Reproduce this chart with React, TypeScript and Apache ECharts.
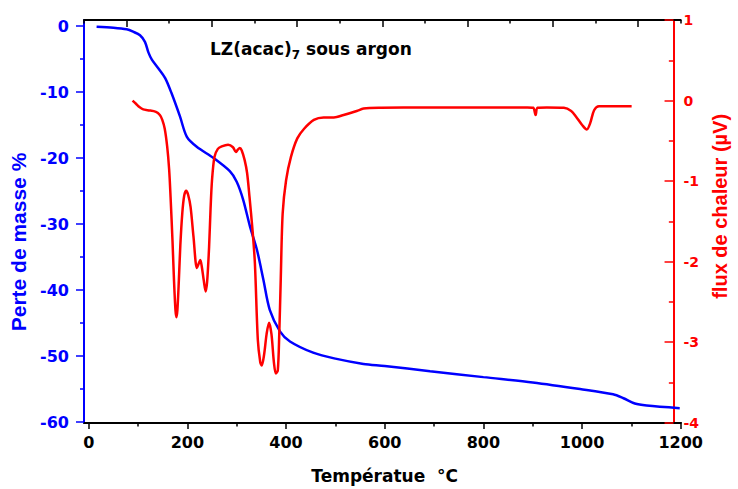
import React, { useEffect, useRef } from "react";
import * as echarts from "echarts";

// Mass loss curve (TG), temperature °C -> mass %
const massTemp = [16, 50, 77, 90, 104, 114, 121, 128, 141, 155, 168, 185, 199, 219, 253, 286, 300, 313, 327, 341, 354, 367, 388, 408, 455, 500, 557, 600, 692, 800, 900, 996, 1063, 1084, 1107, 1131, 1198];
const massLoss = [-0.1, -0.25, -0.5, -0.86, -1.4, -2.4, -4.0, -5.1, -6.4, -7.9, -10.2, -13.7, -16.8, -18.3, -20.0, -22.0, -23.6, -26.3, -30.4, -33.9, -38.4, -43.0, -46.3, -47.8, -49.5, -50.4, -51.2, -51.5, -52.3, -53.2, -54.0, -55.0, -55.8, -56.4, -57.2, -57.5, -57.9];

// Heat flow curve (DTA), temperature °C -> µV
const heatTemp = [90, 97, 104, 112, 121, 138, 146, 151, 156, 161, 165, 168, 172, 175, 178, 180, 182, 185, 188, 192, 196, 200, 204, 209, 215, 222, 226, 229, 232, 236, 240, 243, 247, 250, 253, 258, 265, 273, 286, 296, 302, 306, 310, 314, 320, 325, 330, 336, 341, 347, 352, 355, 360, 365, 370, 375, 380, 384, 388, 391, 394, 398, 405, 415, 428, 442, 462, 482, 503, 523, 550, 564, 600, 692, 800, 900, 912, 917, 921, 940, 975, 990, 1000, 1012, 1022, 1029, 1037, 1047, 1063, 1114];
const heatFlow = [0.0, -0.04, -0.08, -0.11, -0.12, -0.14, -0.18, -0.24, -0.35, -0.57, -0.85, -1.2, -1.75, -2.23, -2.6, -2.69, -2.6, -2.23, -1.8, -1.4, -1.18, -1.12, -1.17, -1.32, -1.69, -2.08, -2.02, -1.98, -2.06, -2.23, -2.37, -2.25, -1.82, -1.35, -0.99, -0.7, -0.6, -0.57, -0.55, -0.58, -0.64, -0.61, -0.59, -0.62, -0.74, -0.9, -1.2, -1.6, -2.02, -2.97, -3.25, -3.29, -3.15, -2.9, -2.76, -2.9, -3.25, -3.39, -3.35, -2.9, -2.23, -1.4, -0.99, -0.7, -0.47, -0.35, -0.24, -0.21, -0.21, -0.18, -0.13, -0.1, -0.09, -0.085, -0.085, -0.085, -0.09, -0.18, -0.09, -0.085, -0.09, -0.13, -0.2, -0.3, -0.36, -0.28, -0.12, -0.07, -0.07, -0.07];

const topCats = ["a", "b", "c", "d", "e", "f", "g"];

const title = "LZ(acac)";
const titleSub = "7";
const titleRest = " sous argon";
const xName = "Températue  °C";
const yLeftName = "Perte de masse %";
const yRightName = "flux de chaleur (µV)";

const BLUE = "#0000ff";
const RED = "#ff0000";
const FONT_H = "DejaVu Sans";
const FONT_V = "Liberation Sans";

const plain = (v: number) => String(v);

export default function App() {
  const ref = useRef<HTMLDivElement>(null);
  useEffect(() => {
    if (!ref.current) return;
    const chart = echarts.init(ref.current, undefined, { renderer: "svg" });
    const gridCommon = { right: 57.3, bottom: 66.3, containLabel: false };
    chart.setOption({
      animation: false,
      backgroundColor: "#ffffff",
      grid: [
        { ...gridCommon, left: 84, top: 20 },
        { ...gridCommon, left: 88.7, top: 26 },
        { ...gridCommon, left: 88.7, top: 20 },
      ],
      xAxis: [
        {
          gridIndex: 0, type: "value", min: 0, max: 1, position: "bottom",
          axisLine: { show: true, onZero: false, lineStyle: { color: "#000", width: 2 } },
          axisTick: { show: false }, axisLabel: { show: false }, splitLine: { show: false },
        },
        {
          gridIndex: 0, type: "category", data: topCats, position: "top", boundaryGap: true,
          axisLine: { show: true, onZero: false, lineStyle: { color: "#000", width: 2 } },
          axisTick: { show: true, inside: true, alignWithLabel: true, length: 7, lineStyle: { color: "#000", width: 1.5 } },
          axisLabel: { show: false }, splitLine: { show: false },
        },
        {
          gridIndex: 0, type: "category", data: topCats, position: "top", boundaryGap: true,
          axisLine: { show: false, onZero: false },
          axisTick: { show: true, inside: true, length: 3.5, lineStyle: { color: "#000", width: 1.5 } },
          axisLabel: { show: false }, splitLine: { show: false },
        },
        {
          gridIndex: 1, type: "value", min: 0, max: 1200, interval: 200, position: "bottom",
          axisLine: { show: false, onZero: false },
          axisTick: { show: true, inside: false, length: 7, lineStyle: { color: "#000", width: 1.5 } },
          minorTick: { show: true, splitNumber: 2, length: 4.5, lineStyle: { color: "#000", width: 1.5 } },
          axisLabel: { color: "#000", fontFamily: FONT_H, fontWeight: "bold", fontSize: 16, margin: 12, formatter: plain },
          splitLine: { show: false },
          name: xName, nameLocation: "middle", nameGap: 45,
          nameTextStyle: { color: "#000", fontFamily: FONT_H, fontWeight: "bold", fontSize: 17 },
        },
        {
          gridIndex: 2, type: "value", min: 0, max: 1200, show: false,
          axisLine: { onZero: false },
        },
      ],
      yAxis: [
        {
          gridIndex: 0, type: "value", min: 0, max: 1, position: "left",
          axisLine: { show: true, onZero: false, lineStyle: { color: BLUE, width: 2 } },
          axisTick: { show: false }, axisLabel: { show: false }, splitLine: { show: false },
        },
        {
          gridIndex: 1, type: "value", min: -60, max: 0, interval: 10, position: "left", offset: 4.7,
          axisLine: { show: false, onZero: false },
          axisTick: { show: true, inside: false, length: 8, lineStyle: { color: BLUE, width: 1.5 } },
          minorTick: { show: true, splitNumber: 2, length: 4, lineStyle: { color: BLUE, width: 1.5 } },
          axisLabel: { color: BLUE, fontFamily: FONT_H, fontWeight: "bold", fontSize: 16, margin: 15, formatter: plain },
          splitLine: { show: false },
          name: yLeftName, nameLocation: "middle", nameGap: 54,
          nameTextStyle: { color: BLUE, fontFamily: FONT_V, fontWeight: "bold", fontSize: 21, padding: [0, 36, 0, 0] },
        },
        {
          gridIndex: 2, type: "value", min: -4, max: 1, interval: 1, position: "right",
          axisLine: { show: true, onZero: false, lineStyle: { color: RED, width: 2 } },
          axisTick: { show: true, inside: true, length: 9, lineStyle: { color: RED, width: 1.5 } },
          minorTick: { show: true, splitNumber: 2, length: 4.7, lineStyle: { color: RED, width: 1.5 } },
          axisLabel: { color: RED, fontFamily: FONT_H, fontWeight: "bold", fontSize: 14, margin: 10, formatter: plain },
          splitLine: { show: false },
          name: yRightName, nameLocation: "middle", nameGap: 35,
          nameTextStyle: { color: RED, fontFamily: FONT_V, fontWeight: "bold", fontSize: 20, padding: [0, 0, 0, 30] },
        },
      ],
      series: [
        {
          type: "line", xAxisIndex: 3, yAxisIndex: 1,
          data: massTemp.map((t, i) => [t, massLoss[i]]),
          showSymbol: false, smooth: 0.3, color: BLUE,
          lineStyle: { color: BLUE, width: 2.5 },
        },
        {
          type: "line", xAxisIndex: 4, yAxisIndex: 2,
          data: heatTemp.map((t, i) => [t, heatFlow[i]]),
          showSymbol: false, smooth: 0.3, color: RED,
          lineStyle: { color: RED, width: 2.5 },
        },
      ],
      graphic: [
        {
          type: "text", left: 210, top: 40,
          style: {
            text: `{m|${title}}{s|${titleSub}}{m|${titleRest}}`,
            fill: "#000",
            rich: {
              m: { fontFamily: FONT_H, fontWeight: "bold", fontSize: 17, lineHeight: 24, fill: "#000" },
              s: { fontFamily: FONT_H, fontWeight: "bold", fontSize: 12, verticalAlign: "bottom", fill: "#000" },
            },
          },
        },
      ],
    });
    return () => chart.dispose();
  }, []);
  return (
    <div
      ref={ref}
      style={{ position: "fixed", left: 0, top: 0, width: 738, height: 489, background: "#fff" }}
    />
  );
}
